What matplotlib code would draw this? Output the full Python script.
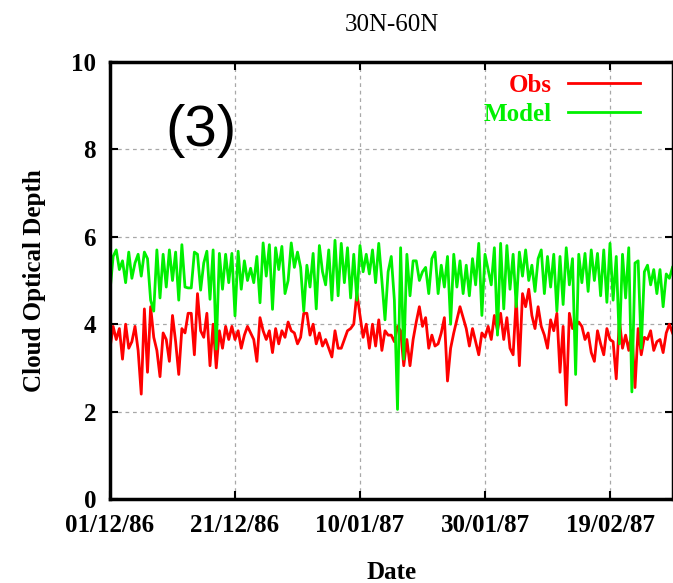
import numpy as np
import matplotlib
matplotlib.use("Agg")
import matplotlib.pyplot as plt

# Twice-daily cloud optical depth, 30N-60N band, starting 01/12/86
start = np.datetime64("1986-12-01T00:00")
step_hours = 12

obs = [
    3.45, 3.95, 3.65, 3.90, 3.20, 4.00, 3.45, 3.60, 3.95, 3.40,
    2.40, 4.35, 2.90, 4.40, 3.70, 3.40, 2.80, 3.80, 3.65, 3.15,
    4.20, 3.60, 2.85, 3.90, 3.80, 4.25, 4.25, 3.30, 4.70, 3.85,
    3.70, 4.25, 3.05, 4.00, 3.00, 3.85, 3.45, 3.95, 3.65, 3.95,
    3.65, 3.85, 3.45, 3.75, 3.95, 3.80, 3.65, 3.15, 4.15, 3.85,
    3.65, 3.85, 3.35, 3.90, 3.55, 3.85, 3.70, 4.05, 3.85, 3.80,
    3.55, 3.70, 4.25, 4.25, 3.75, 4.00, 3.55, 3.80, 3.50, 3.65,
    3.45, 3.25, 3.85, 3.45, 3.45, 3.65, 3.85, 3.90, 4.00, 4.72,
    4.20, 3.70, 4.00, 3.45, 4.00, 3.50, 4.10, 3.40, 3.85, 3.75,
    3.75, 3.60, 3.95, 3.85, 3.05, 3.65, 3.05, 3.65, 4.05, 4.40,
    3.95, 4.15, 3.45, 3.75, 3.50, 3.55, 3.80, 4.15, 2.70, 3.45,
    3.80, 4.10, 4.40, 4.15, 3.90, 3.50, 3.90, 3.60, 3.30, 3.80,
    3.70, 3.95, 3.65, 4.20, 3.85, 4.25, 3.65, 4.15, 3.45, 3.30,
    4.60, 3.05, 4.70, 4.40, 4.80, 4.20, 3.90, 4.40, 3.95, 3.75,
    3.45, 4.10, 3.85, 4.25, 2.90, 3.95, 2.15, 4.25, 3.90, 3.95,
    4.05, 3.95, 3.65, 3.80, 3.35, 3.15, 3.85, 3.55, 3.30, 3.90,
    3.65, 3.60, 2.75, 4.10, 3.45, 3.75, 3.40, 3.85, 2.55, 3.90,
    3.30, 3.70, 3.65, 3.85, 3.40, 3.60, 3.65, 3.35, 3.80, 4.00,
    3.80,
]

model = [
    4.75, 5.55, 5.70, 5.25, 5.45, 4.95, 5.65, 5.05, 5.40, 5.60,
    5.10, 5.65, 5.50, 4.55, 4.30, 5.70, 4.60, 5.60, 4.85, 5.70,
    5.00, 5.65, 4.55, 5.82, 4.85, 4.83, 4.83, 5.65, 5.60, 4.78,
    5.40, 5.67, 4.57, 5.70, 3.43, 5.62, 4.80, 5.60, 4.95, 5.62,
    4.19, 5.67, 4.80, 5.45, 5.00, 5.28, 4.95, 5.55, 4.49, 5.86,
    5.10, 5.82, 4.34, 5.75, 5.25, 5.78, 4.70, 5.00, 5.86, 5.30,
    5.65, 5.30, 4.30, 5.35, 4.85, 5.62, 4.35, 5.80, 5.20, 4.90,
    5.70, 4.55, 5.92, 4.65, 5.85, 4.95, 5.75, 4.60, 5.60, 4.55,
    5.80, 5.20, 5.60, 5.15, 5.70, 4.95, 5.85, 5.00, 4.10, 5.20,
    5.55, 4.55, 2.05, 5.75, 3.20, 5.60, 4.65, 5.45, 5.45, 5.00,
    5.20, 5.30, 4.70, 5.50, 5.65, 4.70, 5.35, 4.85, 5.55, 4.00,
    5.60, 4.85, 5.45, 4.70, 5.35, 4.65, 5.50, 4.90, 5.85, 4.20,
    5.60, 5.25, 4.90, 5.75, 3.75, 5.85, 4.35, 5.80, 4.80, 5.60,
    4.40, 5.65, 5.10, 5.70, 5.00, 5.35, 4.75, 5.50, 5.70, 4.70,
    5.55, 4.85, 5.60, 4.30, 5.55, 4.45, 5.75, 4.90, 5.50, 2.85,
    5.60, 4.95, 5.62, 4.75, 5.70, 5.00, 5.62, 4.65, 5.70, 4.50,
    5.85, 4.55, 5.55, 3.55, 5.60, 4.60, 5.75, 2.45, 5.40, 5.45,
    3.45, 5.20, 5.35, 4.90, 5.25, 4.70, 5.25, 4.40, 5.15, 5.05,
    5.30,
]

tick_dates = ["1986-12-01", "1986-12-21", "1987-01-10", "1987-01-30", "1987-02-19"]
tick_labels = ["01/12/86", "21/12/86", "10/01/87", "30/01/87", "19/02/87"]
series_names = ["Obs", "Model"]
series_colors = ["#ff0000", "#00f000"]

times = start + np.arange(len(obs)) * np.timedelta64(step_hours, "h")
times = times.astype("datetime64[m]").astype(object)

serif = ["Liberation Serif", "DejaVu Serif"]

fig = plt.figure(figsize=(6.73, 5.83), dpi=100)
ax = fig.add_axes([110 / 673, 1 - 499 / 583, 563 / 673, 437 / 583])

ax.plot(times, obs, color=series_colors[0], lw=2.0, label=series_names[0])
ax.plot(times, model, color=series_colors[1], lw=2.0, label=series_names[1])

x0 = np.datetime64("1986-12-01T00:00")
ax.set_xlim(x0.astype(object), (x0 + np.timedelta64(int(90.08 * 24 * 60), "m")).astype(object))
ax.set_ylim(0, 10)

ax.set_xticks([np.datetime64(d).astype("datetime64[m]").astype(object) for d in tick_dates])
ax.set_xticklabels(tick_labels)
ax.set_yticks([0, 2, 4, 6, 8, 10])
ax.set_yticklabels(["0", "2", "4", "6", "8", "10"])

for lab in ax.get_xticklabels() + ax.get_yticklabels():
    lab.set_fontfamily(serif)
    lab.set_fontweight("bold")
    lab.set_fontsize(18)

ax.tick_params(axis="both", direction="in", length=6, width=1.5,
               top=True, right=True)
ax.tick_params(axis="x", pad=11)
ax.tick_params(axis="y", pad=10)

ax.grid(True, color="#a8a8a8", linestyle=(0, (3, 3)), linewidth=0.9)
ax.set_axisbelow(True)

for side in ["left", "right", "top", "bottom"]:
    ax.spines[side].set_linewidth(2.5)

ax.set_title("30N-60N", fontfamily=serif, fontsize=18, pad=22)
ax.set_xlabel("Date", fontfamily=serif, fontweight="bold", fontsize=18, labelpad=17)
ax.set_ylabel("Cloud Optical Depth", fontfamily=serif, fontweight="bold",
              fontsize=18, labelpad=18)

leg = ax.legend(loc="upper right", bbox_to_anchor=((640 - 110) / 563, 0.972),
                frameon=False, markerfirst=False, labelcolor="linecolor",
                handlelength=2.9, handletextpad=0.65, labelspacing=0.22,
                borderaxespad=0, borderpad=0,
                prop={"family": serif, "weight": "bold", "size": 18})

ax.text((201 - 110) / 563, 1 - (131 - 62) / 437, "(3)", transform=ax.transAxes,
        ha="center", va="center", fontsize=42, fontfamily="Liberation Sans")

fig.savefig("out.png", dpi=100)
